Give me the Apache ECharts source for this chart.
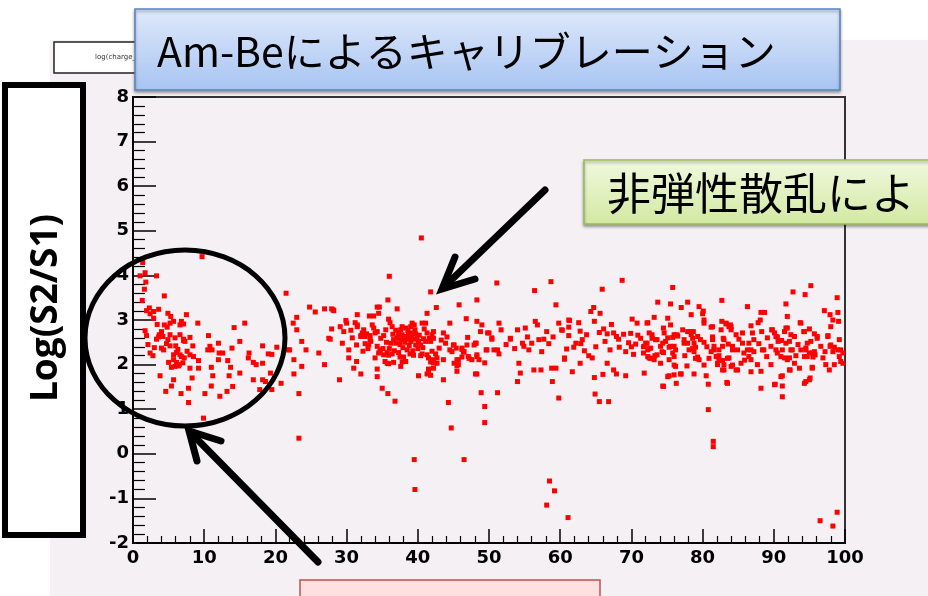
<!DOCTYPE html>
<html>
<head>
<meta charset="utf-8">
<script src="https://cdn.jsdelivr.net/npm/echarts@6/dist/echarts.min.js"></script>
<style>
  html, body { margin: 0; padding: 0; background: #ffffff; }
  #chart { width: 928px; height: 596px; }
</style>
</head>
<body>
<div id="chart"></div>
<script>
// Am-Be calibration: log(S2/S1) versus event parameter, grouped by x range

const pointsLow = [
  [1.36,4.29],[9.7,4.42],[1.0,3.99],[1.7,4.06],[3.3,3.99],[1.8,3.85],[1.6,3.69],[4.4,3.54],[1.3,3.44],[21.5,3.6],
  [1.9,3.21],[2.3,3.27],[2.9,3.19],[3.6,3.24],[2.4,3.14],[2.9,3.04],[4.9,3.15],[5.3,3.08],[7.5,3.12],
  [5.7,2.97],[6.8,2.97],[7.1,2.91],[6.6,2.89],[9.1,2.93],[15.7,2.93],[4.4,2.89],[4.8,2.84],[5.2,2.93],[14.2,2.83],
  [22.5,2.93],[23.0,3.06],[23.0,2.78],
  [1.7,2.76],[1.9,2.65],[4.0,2.74],[3.7,2.67],[3.3,2.57],[3.6,2.62],[4.2,2.63],[5.2,2.67],[6.6,2.67],[7.1,2.57],[8.0,2.61],
  [10.6,2.65],[15.0,2.52],
  [4.7,2.47],[5.2,2.42],[4.0,2.37],[4.3,2.33],[6.0,2.42],[8.4,2.42],[7.3,2.52],[7.1,2.54],
  [10.8,2.41],[11.1,2.33],[10.5,2.33],[12.1,2.26],[12.6,2.26],[12.0,2.48],[13.9,2.37],[18.2,2.42],[20.2,2.39],[22.0,2.33],
  [16.3,2.26],[19.0,2.24],[19.5,2.23],
  [2.4,2.26],[2.8,2.2],[5.7,2.22],[6.1,2.27],[6.6,2.22],[6.8,2.18],[7.2,2.15],[5.7,2.11],[8.5,2.18],[8.0,2.22],[9.2,2.09],
  [6.1,2.05],[6.5,2.0],[5.9,1.96],[5.4,1.94],[6.4,1.97],
  [12.0,2.11],[13.3,2.09],[16.2,2.15],[16.9,2.05],[17.3,2.0],[18.2,2.03],
  [9.2,1.92],[11.0,1.94],[13.7,1.94],[8.0,1.92],[15.0,1.81],[19.3,1.81],[22.6,2.11],[22.6,1.79],
  [3.8,1.75],[8.3,1.7],[5.7,1.66],[13.5,1.75],[11.2,1.75],
  [16.9,1.66],[18.2,1.66],[18.6,1.62],[20.8,1.58],
  [5.4,1.52],[11.0,1.52],[14.0,1.51],[7.8,1.47],[17.8,1.44],[19.5,1.44],
  [4.6,1.4],[6.75,1.35],[10.1,1.35],[12.2,1.29],[13.2,1.4],[23.3,1.35],
  [7.8,1.15],[9.9,0.8],[21.8,2.33],[23.3,0.35],[24.3,2.33],[23.7,1.96],
  [2.1,2.45],[3.0,2.38],[4.9,2.56],[5.9,2.6],[6.3,2.34],[7.6,2.3],[3.4,2.9],[5.0,2.05],[7.0,2.04],[23.7,2.52],[27.5,2.59]
];

const pointsMid = [
  [40.5,4.84],[36.0,3.98],[41.8,3.63],[35.8,3.45],[48.3,3.45],[45.8,3.34],[42.6,3.28],
  [24.8,3.29],[25.6,3.18],[26.9,3.25],[27.9,3.25],[28.2,3.21],
  [34.3,3.29],[34.6,3.29],[37.1,3.25],[41.3,3.15],[34.5,3.15],[33.2,3.09],[33.8,3.09],[31.5,3.12],
  [29.9,2.99],[29.1,2.85],[29.6,2.74],[27.9,2.8],[31.2,2.94],[31.5,2.85],
  [46.8,3.03],[48.3,2.97],[49.0,2.89],[44.5,2.93],
  [28.1,3.23],[30.0,2.93],[27.7,2.57],
  [32.4,2.78],[32.8,2.69],[33.3,2.65],[32.0,2.65],[33.4,2.52],[32.6,2.47],
  [33.6,2.89],[33.8,2.82],[34.3,2.74],[35.2,2.65],[34.8,2.59],[34.0,2.71],
  [35.9,3.02],[36.1,2.94],[36.4,2.85],[37.8,2.85],[37.6,2.78],[38.3,2.82],[39.0,2.85],[39.2,2.93],[39.5,2.89],
  [40.6,2.93],[41.1,2.93],[42.2,2.74],[42.0,2.67],[41.3,2.71],[41.1,2.52],[41.8,2.52],[41.6,2.59],[42.2,2.59],[43.6,2.71],
  [37.3,2.71],[37.8,2.67],[38.3,2.63],[38.7,2.67],[39.2,2.71],[39.7,2.69],[39.9,2.63],[39.4,2.57],[39.0,2.52],[38.5,2.57],
  [38.0,2.56],[37.6,2.56],[37.1,2.59],[36.6,2.56],[36.2,2.48],[36.9,2.48],[40.1,2.52],[40.4,2.44],[39.7,2.44],
  [43.9,2.48],[45.1,2.44],[45.4,2.37],[44.5,2.33],[44.8,2.29],[46.2,2.37],[46.5,2.29],[46.9,2.44],[47.9,2.44],[46.2,2.17],
  [45.7,2.11],[45.5,1.97],[45.1,2.03],[47.2,2.14],[47.6,2.11],[48.3,2.18],[48.6,2.11],[48.1,1.79],[49.7,2.33],
  [34.7,2.27],[35.2,2.22],[35.7,2.27],[35.9,2.21],[36.4,2.24],[37.3,2.27],[37.5,2.17],[38.0,2.17],[37.8,2.06],[38.9,2.24],
  [39.4,2.21],[40.4,2.2],[40.6,2.24],[41.3,2.22],[42.0,2.3],[42.5,2.24],[42.7,2.15],[41.8,2.06],[42.2,2.04],[41.5,1.87],
  [41.3,1.79],[41.8,1.76],
  [34.0,2.15],[34.3,1.9],[35.4,2.07],[35.9,2.02],[36.6,2.05],[38.3,2.07],[40.1,1.75],[43.6,1.66],[35.0,1.47],
  [30.3,2.33],[30.3,2.15],[31.4,2.07],[31.0,1.92],[32.0,1.79],[29.0,1.66],
  [49.8,2.71],[47.0,2.61],[48.1,2.48],
  [26.1,2.26],[26.9,2.0],
  [34.3,1.73],[35.8,1.35],[36.8,1.18],
  [44.3,1.15],[44.7,0.58],[48.9,1.37],[49.4,1.06],[49.4,0.7],[48.3,1.79],
  [31.4,2.44],[33.1,2.44],[33.3,2.56],[32.6,2.63],[32.2,2.71],[31.5,2.89],[32.0,2.63],
  [34.3,2.41],[34.5,2.26],[34.7,2.33],[35.7,2.03],[37.6,1.96],[41.5,2.15],[42.2,2.11],[42.7,2.03],[41.5,1.9],[42.2,1.92],
  [48.2,2.48],[48.8,2.74],[47.1,2.18],[46.2,2.34],[45.0,2.44],[46.4,2.28],[45.5,2.11],[45.7,2.0],[45.5,1.85],[43.6,2.11],
  [49.4,2.04],[48.3,2.22],[49.6,2.33],
  [36.5,2.68],[36.9,2.77],[37.2,2.62],[37.5,2.45],[37.9,2.38],[38.2,2.5],[38.6,2.76],[38.8,2.43],[39.1,2.62],[39.6,2.78],
  [40.0,2.36],[40.2,2.66],[40.8,2.58],[40.9,2.8],[35.5,2.78],[35.6,2.5],[35.1,2.36],[36.0,2.36],[36.7,2.31],[38.5,2.33],
  [39.3,2.31],[40.7,2.38],[43.0,2.37],[43.3,2.55],[44.1,2.62],[33.0,2.36],[32.3,2.3],[30.8,2.6],[30.6,2.77],[29.4,2.48],
  [39.5,-0.13],[46.5,-0.13],[39.6,-0.8]
];

const pointsHigh = [
  [51.1,3.83],[58.7,3.86],[56.4,3.66],[59.4,3.34],
  [51.4,2.93],[51.7,2.78],[54.0,2.78],[55.1,2.82],[56.5,2.97],[56.8,2.89],[59.8,2.93],[61.2,3.0],[61.2,2.84],[60.2,2.78],[62.6,2.94],
  [53.0,2.57],[50.4,2.57],[50.7,2.33],[51.2,2.33],[51.4,2.24],[50.0,2.71],[50.4,2.6],
  [54.0,1.62],[54.2,2.03],[54.4,1.81],[56.3,1.88],[57.3,1.88],[58.8,1.92],[59.4,1.92],[58.9,1.62],[59.8,1.25],[61.7,1.84],
  [60.6,2.15],[60.9,2.35],
  [53.0,2.59],[54.7,2.48],[54.9,2.41],[55.6,2.33],[57.0,2.56],[57.7,2.57],[58.4,2.47],[58.1,2.74],[55.4,2.62],
  [51.2,1.37],
  [68.7,3.89],[65.9,3.69],
  [73.7,3.4],[64.7,3.28],[64.3,3.19],[65.6,3.15],[64.8,2.97],[67.2,2.9],[66.1,2.8],[65.5,2.72],[66.6,2.69],[67.5,2.71],
  [67.9,2.63],[68.9,2.68],[68.3,2.39],[69.2,2.29],
  [61.3,2.99],[60.3,2.77],[61.2,2.65],[62.8,2.75],[63.7,2.67],[62.2,2.48],[62.9,2.47],[61.9,2.39],[60.6,2.12],[64.0,2.2],
  [64.5,2.15],[62.8,2.03],[64.8,1.71],[66.0,1.78],[67.5,1.88],[67.9,1.79],[69.2,1.75],[66.6,2.03],[70.3,2.23],[70.0,2.4],
  [70.6,2.46],[70.1,3.02],[70.8,2.93],[72.3,2.94],[73.2,3.06],[71.7,2.4],[72.5,2.36],[72.7,2.14],[73.3,2.2],
  [64.9,1.34],[65.5,1.17],[66.8,1.17],
  [71.3,2.59],[72.0,2.48],[72.3,2.33],[71.7,2.26],[72.9,2.59],[73.6,2.56],[74.1,2.41],[73.2,2.11],[72.3,2.18],[74.1,2.03],
  [72.2,2.93],[72.5,2.71],[72.9,2.67],[73.4,2.56],[72.2,2.48],[71.8,2.41],[72.7,2.37],[72.5,2.15],[73.6,2.22],[74.3,2.29],
  [74.5,2.82],[71.8,1.81],[74.5,1.51],
  [52.4,2.45],[53.6,2.36],[56.0,2.48],[57.4,2.29],[59.0,2.62],[63.1,2.56],[65.0,2.4],[66.3,2.52],[67.0,2.33],[68.2,2.57],
  [69.6,2.49],[70.9,2.66],[69.9,2.7],[63.4,2.31],
  [58.5,-0.61],[59.2,-0.83],[58.1,-1.15],[61.1,-1.43]
];

const pointsTail = [
  [75.8,3.73],[95.2,3.77],[92.7,3.63],[94.4,3.57],[98.9,3.5],[82.7,3.44],
  [77.9,3.4],[75.5,3.36],[77.0,3.28],[79.5,3.3],[80.1,3.2],[80.0,3.14],
  [75.1,3.04],[75.5,2.89],[76.0,2.67],[76.4,2.67],[74.8,2.52],[75.3,2.39],[76.0,2.41],[75.8,2.26],[75.3,2.11],[76.2,1.96],
  [77.2,2.78],[77.4,2.56],[77.9,2.48],[78.3,2.74],[78.6,2.59],[78.1,2.33],[78.8,2.29],[79.3,2.17],[79.5,2.11],[79.7,2.56],[80.2,2.93],
  [81.4,2.85],[81.4,2.59],[81.2,2.29],[81.6,2.33],[81.9,2.18],[82.3,2.11],[82.1,2.0],[82.8,1.88],[83.0,2.0],[84.0,1.96],
  [83.7,2.15],[84.2,2.33],[82.8,2.41],[83.0,2.56],[82.6,2.78],[83.3,2.93],[84.0,2.85],[84.7,2.67],[85.6,2.71],
  [86.8,2.87],[87.0,2.71],[86.5,2.48],[86.3,2.33],[85.8,2.26],[85.4,2.03],[86.8,2.11],[87.7,2.0],[87.2,2.29],[88.4,2.33],
  [89.6,2.41],[89.8,2.78],[90.3,2.63],[90.6,2.52],[90.5,2.26],[91.5,2.15],[91.9,2.11],[92.6,2.33],[92.2,2.52],[92.9,2.63],
  [91.7,2.82],[92.4,2.67],[93.8,2.93],[94.3,2.74],[94.7,2.48],[95.2,2.52],[94.5,2.33],[94.7,2.18],[95.4,2.26],[96.1,2.63],
  [95.7,2.29],[96.9,2.15],[97.6,2.63],[98.0,2.44],[98.3,2.29],[99.0,2.33],[99.2,2.18],[99.4,2.07],[99.7,2.26],[98.5,2.0],
  [97.8,1.88],[97.3,2.0],
  [93.6,1.92],[95.4,1.92],[95.0,1.66],[94.3,1.58],[92.2,1.88],[91.0,1.73],[90.1,1.55],[88.2,1.47],[86.8,1.84],[84.9,1.88],
  [83.5,1.58],[80.5,1.75],[78.8,1.79],[76.9,1.79],[76.0,1.77],[75.1,1.73],
  [74.6,2.71],[75.1,2.6],[74.4,2.48],[75.5,2.41],[76.2,2.33],[76.0,2.18],[75.8,2.61],[76.5,2.64],[74.5,2.27],[76.0,1.99],
  [75.3,1.75],[74.4,1.52],[76.3,1.58],[77.0,1.79],[77.8,1.97],[77.5,2.2],[78.6,2.36],[79.3,2.14],[77.9,2.74],[78.4,2.67],
  [78.8,2.48],[79.0,2.39],[80.2,2.5],[81.4,2.62],[82.3,2.2],[82.1,2.03],[82.8,2.09],[83.5,2.14],[84.2,1.99],[84.7,1.88],
  [83.0,1.88],[83.4,1.6],[80.8,1.56],
  [82.7,2.97],[83.3,2.91],[83.7,2.85],[84.0,2.78],[82.9,2.59],[84.2,2.41],[84.9,2.33],[86.3,3.3],[87.2,2.56],[86.8,2.33],
  [86.5,2.18],[85.6,2.48],[88.2,3.17],[88.7,3.17],[88.1,3.0],[87.8,2.94],[88.3,2.74],[89.7,2.78],[90.1,2.71],[90.5,2.62],
  [91.1,2.54],[91.5,2.74],[91.9,2.82],[91.7,2.48],[91.2,2.33],[91.0,2.18],[90.3,2.33],[88.6,2.33],[89.6,2.0],[88.2,1.85],
  [90.2,1.56],[91.2,1.75],[91.2,1.52],[91.2,1.28],[91.9,3.08],[91.7,3.36],[93.7,2.94],[95.0,2.8],[95.7,2.69],[96.1,2.59],
  [94.2,2.74],[94.5,2.37],[95.0,2.26],[95.8,2.22],[97.1,3.21],[97.9,3.12],[99.0,3.17],[99.1,2.97],[98.3,3.0],[98.0,2.85],
  [97.6,2.65],[97.9,2.41],[98.5,2.39],[99.2,2.56],[99.4,2.33],[99.7,2.03],[95.4,1.94],[95.1,1.7],[94.5,1.62],[93.1,2.2],
  [92.4,2.33],[92.2,2.15],[92.9,2.03],[92.3,1.88],[93.8,2.33],[94.3,2.18],[95.5,2.17],
  [78.4,3.12],[78.7,2.74],[79.3,2.63],[80.2,3.0],[81.2,2.84],[81.4,2.56],[81.6,2.41],[82.1,2.18],[83.9,2.89],[82.3,2.33],
  [80.9,2.14],[80.2,1.99],[79.0,2.14],[77.4,2.48],
  [80.6,2.4],[83.6,2.46],[85.1,2.57],[87.9,2.47],[89.1,2.6],[93.4,2.45],[96.6,2.41],[97.2,2.29],[89.0,2.18],[85.9,2.1],
  [80.8,0.99],[81.5,0.28],[81.5,0.16],
  [96.5,-1.5],[98.3,-1.62],[98.9,-1.31]
];

const xRange = [0, 100];
const yRange = [-2, 8];

const titleText = 'Am-Beによるキャリブレーション';
const yAxisTitle = 'Log(S2/S1)';
const noteText = '非弾性散乱によ';
const histName = 'log(charge_';

const chart = echarts.init(document.getElementById('chart'), null, { renderer: 'canvas' });

const tickFont = { color: '#000', fontFamily: '"DejaVu Sans"', fontWeight: 'bold', fontSize: 18 };
const cjk = '"Noto Sans CJK JP", "Noto Sans", sans-serif';

const option = {
  backgroundColor: '#ffffff',
  animation: false,
  grid: {
    left: 133, top: 97, width: 712, height: 446,
    show: true, backgroundColor: 'transparent', borderColor: '#333', borderWidth: 2,
    outerBoundsMode: 'none'
  },
  xAxis: {
    type: 'value', min: xRange[0], max: xRange[1], interval: 10,
    axisLine: { show: true, onZero: false, lineStyle: { color: '#000', width: 2 } },
    axisTick: { show: true, inside: true, length: 14, lineStyle: { color: '#000', width: 1.5 } },
    minorTick: { show: true, splitNumber: 5, length: 7, lineStyle: { color: '#000', width: 1.2 } },
    splitLine: { show: false },
    axisLabel: Object.assign({ margin: 6 }, tickFont)
  },
  yAxis: {
    type: 'value', min: yRange[0], max: yRange[1], interval: 1,
    axisLine: { show: true, onZero: false, lineStyle: { color: '#000', width: 2 } },
    axisTick: { show: true, inside: true, length: 23, lineStyle: { color: '#000', width: 1.5 } },
    minorTick: { show: true, splitNumber: 5, length: 12, lineStyle: { color: '#000', width: 1.2 } },
    splitLine: { show: false },
    axisLabel: Object.assign({ margin: 4 }, tickFont)
  },
  series: [{
    type: 'scatter',
    symbol: 'rect',
    symbolSize: 5,
    itemStyle: { color: '#ff0000', opacity: 1 },
    data: pointsLow.concat(pointsMid, pointsHigh, pointsTail),
    z: 3
  }],
  graphic: [
    // canvas backdrop
    { type: 'rect', z: -100, silent: true, shape: { x: 50, y: 40, width: 878, height: 556 }, style: { fill: '#f5f0f4' } },
    // histogram name box
    { type: 'rect', z: 50, shape: { x: 54, y: 42, width: 95, height: 31 }, style: { fill: '#ffffff', stroke: '#222', lineWidth: 1.5 } },
    { type: 'text', z: 51, x: 95, y: 57, style: { text: histName, font: '7px "DejaVu Sans"', fill: '#333', align: 'left', verticalAlign: 'middle' } },
    // title banner
    { type: 'rect', z: 60, shape: { x: 135, y: 9, width: 705, height: 81 },
      style: {
        fill: new echarts.graphic.LinearGradient(0, 0, 0, 1, [
          { offset: 0, color: '#dfe9fb' }, { offset: 1, color: '#a7c4f2' }
        ]),
        stroke: '#5a84c0', lineWidth: 1.5,
        shadowColor: 'rgba(0,0,0,0.35)', shadowBlur: 3, shadowOffsetY: 2
      } },
    { type: 'text', z: 61, x: 157, y: 51, style: { text: titleText, font: '41px ' + cjk, fill: '#000', align: 'left', verticalAlign: 'middle' } },
    // y-axis title panel
    { type: 'rect', z: 60, shape: { x: 5, y: 85, width: 78, height: 450 }, style: { fill: '#ffffff', stroke: '#000', lineWidth: 6 } },
    { type: 'text', z: 61, x: 46, y: 308, rotation: Math.PI / 2,
      style: { text: yAxisTitle, font: 'bold 37px "Open Sans"', fill: '#000', align: 'center', verticalAlign: 'middle' } },
    // note banner
    { type: 'rect', z: 60, shape: { x: 584, y: 160, width: 380, height: 64 },
      style: {
        fill: new echarts.graphic.LinearGradient(0, 0, 0, 1, [
          { offset: 0, color: '#f1f8df' }, { offset: 1, color: '#d2e9a2' }
        ]),
        stroke: '#9bbb59', lineWidth: 1.5,
        shadowColor: 'rgba(0,0,0,0.35)', shadowBlur: 3, shadowOffsetY: 2
      } },
    { type: 'text', z: 61, x: 607, y: 193, style: { text: noteText, font: '44px ' + cjk, fill: '#000', align: 'left', verticalAlign: 'middle' } },
    // bottom banner
    { type: 'rect', z: 60, shape: { x: 300, y: 580, width: 300, height: 30 }, style: { fill: '#fde0df', stroke: '#c0504d', lineWidth: 1.5 } },
    // highlight ring around the low-x region
    { type: 'ellipse', z: 100, shape: { cx: 185, cy: 338, rx: 100, ry: 88 }, style: { fill: 'none', stroke: '#000', lineWidth: 5 } },
    // pointer to the main band
    { type: 'line', z: 100, shape: { x1: 545, y1: 190, x2: 444, y2: 287 }, style: { stroke: '#000', lineWidth: 7, lineCap: 'round' } },
    { type: 'polyline', z: 100, shape: { points: [[455, 257], [442, 289], [475, 279]] }, style: { stroke: '#000', lineWidth: 7, lineCap: 'round', lineJoin: 'miter', fill: 'none' } },
    // pointer to the ring
    { type: 'line', z: 100, shape: { x1: 318, y1: 562, x2: 192, y2: 434 }, style: { stroke: '#000', lineWidth: 7, lineCap: 'round' } },
    { type: 'polyline', z: 100, shape: { points: [[197, 461], [189, 431], [221, 441]] }, style: { stroke: '#000', lineWidth: 7, lineCap: 'round', lineJoin: 'miter', fill: 'none' } }
  ]
};

chart.setOption(option);
</script>
</body>
</html>
